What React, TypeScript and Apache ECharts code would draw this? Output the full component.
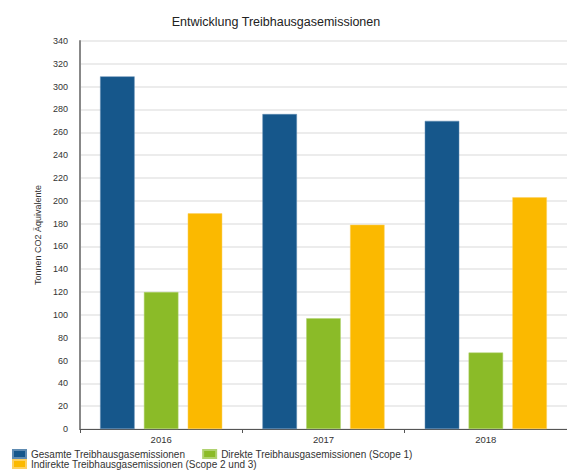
import React, { useEffect, useRef } from "react";
import * as echarts from "echarts";

const categories = ["2016", "2017", "2018"];
const seriesNames = [
  "Gesamte Treibhausgasemissionen",
  "Direkte Treibhausgasemissionen (Scope 1)",
  "Indirekte Treibhausgasemissionen (Scope 2 und 3)",
];
const gesamt = [309, 276, 270];
const direkt = [120, 97, 67];
const indirekt = [189, 179, 203];
const colors = ["#16578b", "#8bbb28", "#fbb900"];
const borders = ["#5f8bb2", "#b0d270", "#fdd060"];
const yTicks = { min: 0, max: 340, interval: 20 };

export default function App() {
  const ref = useRef<HTMLDivElement>(null);
  useEffect(() => {
    const chart = echarts.init(ref.current!, null, { renderer: "svg" });
    const values = [gesamt, direkt, indirekt];
    const font = "Liberation Sans, Arial, sans-serif";
    chart.setOption({
      animation: false,
      textStyle: { fontFamily: font },
      title: {
        text: "Entwicklung Treibhausgasemissionen",
        left: 271,
        textAlign: "center",
        top: 10,
        textStyle: { fontSize: 12.5, fontWeight: "normal", color: "#222", fontFamily: font },
      },
      legend: [
        {
          data: seriesNames.slice(0, 2),
          left: 12,
          top: 449,
          orient: "horizontal",
          itemWidth: 13,
          itemHeight: 8,
          itemGap: 17,
          icon: "rect",
          padding: 0,
          textStyle: { fontSize: 10, color: "#333", fontFamily: font },
        },
        {
          data: seriesNames.slice(2),
          left: 12,
          top: 459,
          itemWidth: 13,
          itemHeight: 8,
          icon: "rect",
          padding: 0,
          textStyle: { fontSize: 10, color: "#333", fontFamily: font },
        },
      ],
      grid: { left: 80, top: 41, width: 493, height: 388, containLabel: false },
      xAxis: {
        type: "category",
        data: categories,
        axisLine: { lineStyle: { color: "#555", width: 1 } },
        axisTick: { show: true, length: 4, lineStyle: { color: "#555" } },
        axisLabel: { fontSize: 9.5, color: "#333", margin: 5 },
      },
      yAxis: {
        type: "value",
        min: yTicks.min,
        max: yTicks.max,
        interval: yTicks.interval,
        name: "Tonnen CO2 Äquivalente",
        nameLocation: "middle",
        nameGap: 34,
        nameRotate: 90,
        nameTextStyle: { fontSize: 9, color: "#333" },
        axisLine: { show: true, lineStyle: { color: "#888", width: 2 } },
        axisTick: { show: false },
        axisLabel: { fontSize: 9, color: "#333", margin: 12 },
        splitLine: { lineStyle: { color: "#e6e6e6", width: 1.5 } },
      },
      series: seriesNames.map((name, i) => ({
        name,
        type: "bar",
        data: values[i],
        barWidth: 34.5,
        barGap: "27%",
        barCategoryGap: "25%",
        itemStyle: { color: colors[i], borderColor: borders[i], borderWidth: 0.5 },
      })),
    });
    return () => chart.dispose();
  }, []);
  return <div ref={ref} style={{ width: 567, height: 470, position: "absolute", left: 0, top: 0 }} />;
}
